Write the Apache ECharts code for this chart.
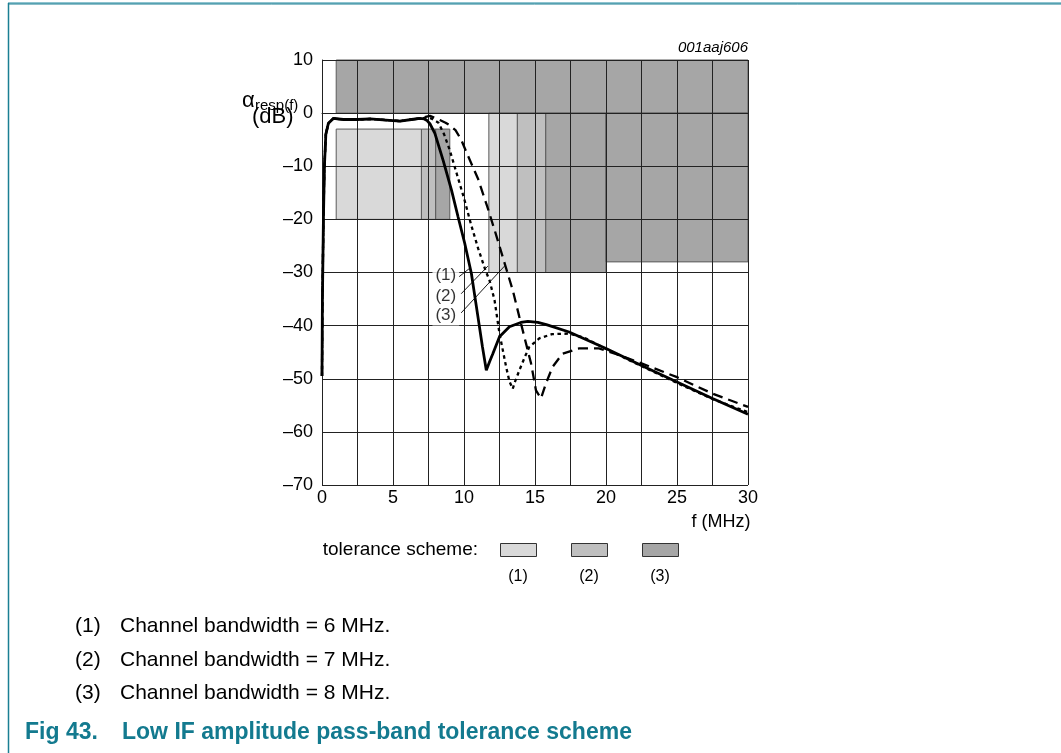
<!DOCTYPE html>
<html><head><meta charset="utf-8">
<script src="https://cdn.jsdelivr.net/npm/echarts@6/dist/echarts.min.js"></script>
<style>html,body{margin:0;padding:0;background:#fff;}#c{width:1061px;height:753px;}</style>
</head><body><div id="c"></div>
<script>
// ---- data (frequency in MHz, response in dB) ----
const freq6 = [0,0.03,0.1,0.17,0.27,0.45,0.8,1.5,2.5,3.4,4.5,5.5,6.3,6.9,7.2,7.4,7.6,7.95,8.53,9.12,9.58,10.05,10.52,10.98,11.3,11.57,11.8,12.03,12.5,13.2,14.0,14.5,15.2,15.8,17.4,20,22.5,25,27.5,30];
const resp6 = [-49.5,-35,-20,-10,-4,-1.9,-1.0,-1.2,-1.2,-1.1,-1.3,-1.5,-1.2,-1.0,-1.1,-1.4,-2.0,-3.8,-8.9,-14.5,-19.5,-24.5,-30.2,-38.3,-44,-48.4,-46.8,-45.3,-42.1,-40.2,-39.4,-39.2,-39.4,-39.8,-41.2,-44.3,-47.5,-50.6,-53.7,-56.7];
const freq7 = [0,0.03,0.1,0.17,0.27,0.45,0.8,1.5,2.5,3.4,4.5,5.5,6.3,6.9,7.3,7.7,8.2,8.6,9.0,9.5,10.0,10.5,11.0,11.5,11.8,12.15,12.5,12.97,13.2,13.43,13.6,13.9,14.3,14.6,15.3,16.2,17.4,18.5,20,22.5,25,27.5,30];
const resp7 = [-49.5,-35,-20,-10,-4,-1.9,-1.0,-1.2,-1.2,-1.1,-1.3,-1.5,-1.2,-1.0,-0.9,-1.0,-1.8,-4,-7,-11.5,-16,-21,-25.5,-29.5,-31.5,-35.2,-41.5,-47.8,-50.5,-51.9,-50.5,-48.4,-45.8,-44.0,-42.4,-41.6,-41.5,-42.3,-44.4,-47.6,-50.8,-53.8,-56.3];
const freq8 = [0,0.03,0.1,0.17,0.27,0.45,0.8,1.5,2.5,3.4,4.5,5.5,6.3,6.9,7.3,7.6,8.3,8.7,9.0,9.4,9.8,10.21,10.98,11.64,12.27,12.92,13.43,13.9,14.25,14.72,15.07,15.42,15.77,16.23,16.93,18.1,19.5,20.9,22.5,25,27.5,30];
const resp8 = [-49.5,-35,-20,-10,-4,-1.9,-1.0,-1.2,-1.2,-1.1,-1.3,-1.5,-1.2,-1.0,-0.7,-0.5,-1.3,-1.8,-2.3,-3.2,-5,-7.6,-12.3,-17.6,-23.0,-28.8,-33.3,-38.4,-42.1,-47.1,-52.2,-53.7,-50.9,-47.8,-45.3,-44.3,-44.3,-45.5,-47.1,-49.7,-52.8,-55.3];
// tolerance boxes: [fStart, fEnd, dBlow, dBhigh]
const scheme1Boxes = [[1,7,-20,-3],[11.75,13.75,-30,0]];
const scheme2Boxes = [[7,8,-20,-3],[13.75,15.75,-30,0]];
const scheme3Boxes = [[1,30,0,10],[8,9,-20,-3],[15.75,20,-30,0],[20,30,-28,0]];
const xTickLabels = [0,5,10,15,20,25,30];
const yTickValues = [10,0,-10,-20,-30,-40,-50,-60,-70];
// curve callouts: [labelF, labeldB, text] and leaders [f0,dB0,f1,dB1]
const calloutLabels = [[8.72,-30.6,'(1)'],[8.72,-34.5,'(2)'],[8.72,-38.1,'(3)']];
const calloutLeaders = [[9.65,-30.8,10.4,-29.2],[9.8,-34.0,11.68,-28.8],[9.8,-37.6,12.85,-28.8]];
const schemeNames = ['(1)','(2)','(3)'];
const noteMarks = ['(1)','(2)','(3)'];
const footnotes = ['Channel bandwidth = 6 MHz.','Channel bandwidth = 7 MHz.','Channel bandwidth = 8 MHz.'];

const colLight = '#d9d9d9', colMed = '#bfbfbf', colDark = '#a6a6a6';
const zip = (a,b) => a.map((v,i)=>[v,b[i]]);

function boxSeries(boxes, color){
  return {
    type:'custom', z:1, silent:true,
    encode:{x:[0,1], y:[2,3]},
    data: boxes,
    renderItem(params, api){
      const p0 = api.coord([api.value(0), api.value(3)]);
      const p1 = api.coord([api.value(1), api.value(2)]);
      return {type:'rect', shape:{x:p0[0], y:p0[1], width:p1[0]-p0[0], height:p1[1]-p0[1]},
        style:{fill:color, stroke:'#5a5a5a', lineWidth:1}};
    }
  };
}

const FONT = 'Liberation Sans, Arial, sans-serif';
const T = (x, y, text, font, extra) => ({type:'text', x:x, y:y,
  style:Object.assign({text:text, font:font + ' ' + FONT, fill:'#000', verticalAlign:'middle'}, extra || {})});

const chart = echarts.init(document.getElementById('c'), null, {renderer:'canvas'});
chart.setOption({
  animation:false,
  backgroundColor:'#fff',
  textStyle:{fontFamily:FONT},
  grid:{left:322, right:313, top:60, bottom:268, containLabel:false},
  xAxis:{type:'value', min:0, max:30, interval:2.5, z:3,
    axisLine:{show:true, lineStyle:{color:'#222', width:1}},
    axisTick:{show:false},
    splitLine:{show:true, lineStyle:{color:'#222', width:1}},
    axisLabel:{fontSize:18, color:'#000', margin:4, fontFamily:FONT,
      formatter:v => xTickLabels.indexOf(v) >= 0 ? String(v) : ''}
  },
  yAxis:{type:'value', min:-70, max:10, interval:10, z:3,
    axisLine:{show:true, lineStyle:{color:'#222', width:1}},
    axisTick:{show:false},
    splitLine:{show:true, lineStyle:{color:'#222', width:1}},
    axisLabel:{fontSize:18, color:'#000', margin:9, fontFamily:FONT,
      formatter:v => yTickValues.indexOf(v) < 0 ? '' : (v < 0 ? '\u2013' + (-v) : String(v))}
  },
  series:[
    boxSeries(scheme3Boxes, colDark),
    boxSeries(scheme2Boxes, colMed),
    boxSeries(scheme1Boxes, colLight),
    {type:'custom', z:6, silent:true, encode:{x:[0,2], y:[1,3]}, data:calloutLeaders,
      renderItem(params, api){
        const a = api.coord([api.value(0), api.value(1)]);
        const b = api.coord([api.value(2), api.value(3)]);
        return {type:'line', shape:{x1:a[0], y1:a[1], x2:b[0], y2:b[1]}, style:{stroke:'#000', lineWidth:0.9}};
      }},
    {type:'scatter', z:7, silent:true, symbolSize:0, data:calloutLabels,
      label:{show:true, position:'inside', formatter:p => p.value[2], fontSize:17, color:'#000',
        fontFamily:FONT, backgroundColor:'#fff', padding:[2,3,1,3]}},
    {type:'line', z:8, name:'8 MHz', data:zip(freq8,resp8), showSymbol:false, silent:true,
      lineStyle:{color:'#000', width:2.3, type:[10,6]}},
    {type:'line', z:9, name:'7 MHz', data:zip(freq7,resp7), showSymbol:false, silent:true,
      lineStyle:{color:'#000', width:2.3, type:[3.5,3.5]}},
    {type:'line', z:10, name:'6 MHz', data:zip(freq6,resp6), showSymbol:false, silent:true,
      lineStyle:{color:'#000', width:2.8}}
  ],
  graphic:[
    {type:'line', shape:{x1:8, y1:3, x2:1061, y2:3}, style:{stroke:'#8fc3cf', lineWidth:2}},
    {type:'line', shape:{x1:8, y1:4, x2:1061, y2:4}, style:{stroke:'#1b7f93', lineWidth:1}},
    {type:'line', shape:{x1:8.5, y1:3, x2:8.5, y2:753}, style:{stroke:'#1b7f93', lineWidth:1.5}},
    T(748, 48, '001aaj606', 'italic 15px', {align:'right'}),
    T(242, 101, '\u03b1', '22px'),
    T(255, 106, 'resp(f)', '15px'),
    T(252, 117, '(dB)', '22px'),
    T(721, 522, 'f (MHz)', '18px', {align:'center'}),
    T(478, 550, 'tolerance scheme:', '19px', {align:'right'}),
    {type:'rect', shape:{x:500.5, y:543.5, width:36, height:13}, style:{fill:colLight, stroke:'#333', lineWidth:1}},
    {type:'rect', shape:{x:571.5, y:543.5, width:36, height:13}, style:{fill:colMed, stroke:'#333', lineWidth:1}},
    {type:'rect', shape:{x:642.5, y:543.5, width:36, height:13}, style:{fill:colDark, stroke:'#333', lineWidth:1}},
    T(518, 577, schemeNames[0], '16px', {align:'center'}),
    T(589, 577, schemeNames[1], '16px', {align:'center'}),
    T(660, 577, schemeNames[2], '16px', {align:'center'}),
    T(75, 626, noteMarks[0], '21px'),
    T(120, 626, footnotes[0], '21px'),
    T(75, 660, noteMarks[1], '21px'),
    T(120, 660, footnotes[1], '21px'),
    T(75, 693, noteMarks[2], '21px'),
    T(120, 693, footnotes[2], '21px'),
    T(25, 733, 'Fig 43.', 'bold 23px', {fill:'#137a8f'}),
    T(122, 733, 'Low IF amplitude pass-band tolerance scheme', 'bold 23px', {fill:'#137a8f'})
  ]
});
</script></body></html>
